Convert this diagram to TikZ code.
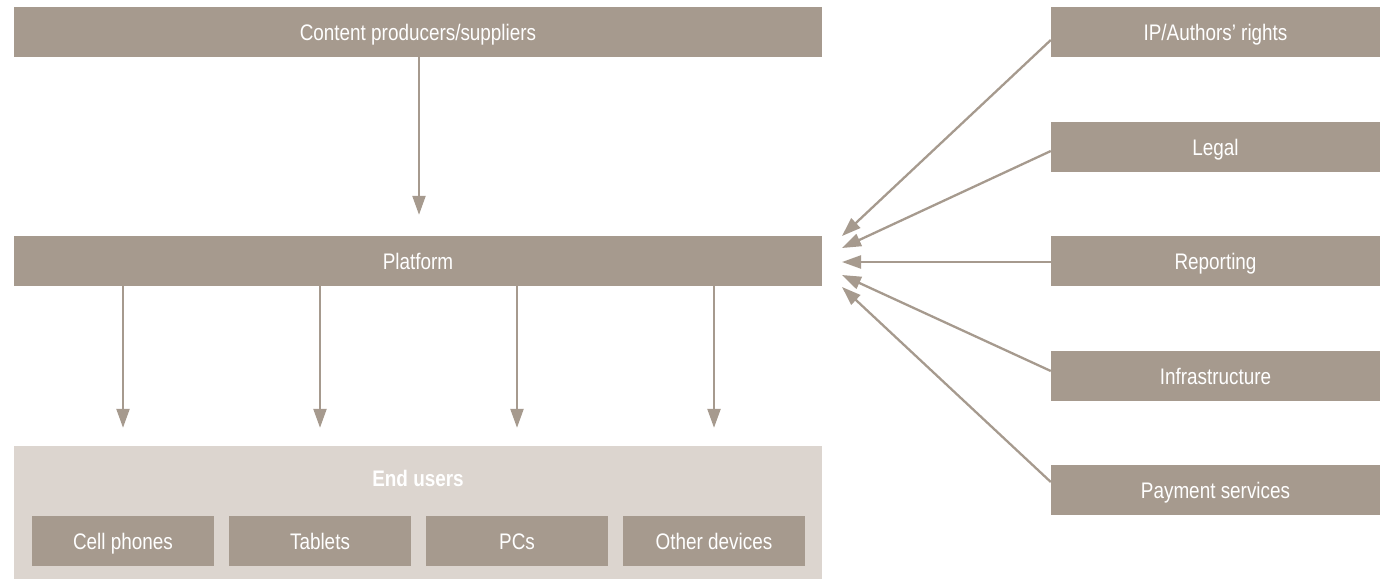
\documentclass[tikz,border=0pt]{standalone}
\usepackage{fontspec}
\setmainfont{Liberation Sans}[FakeStretch=0.84]
\usetikzlibrary{arrows.meta}
\definecolor{boxc}{HTML}{A69A8E}
\definecolor{bgc}{HTML}{DCD5CF}
\tikzset{
  box/.style={fill=boxc, draw=none, inner sep=0pt, text=white,
    font=\fontsize{22.5}{27}\selectfont, minimum height=50pt,
    text height=16pt, text depth=0pt},
  wide/.style={box, minimum width=808pt},
  side/.style={box, minimum width=329pt},
  dev/.style={box, minimum width=182pt},
  bgbox/.style={fill=bgc, draw=none, inner sep=0pt, minimum width=808pt, minimum height=133pt},
  arr/.style={draw=boxc, line width=2.3pt, -{Triangle[length=19pt,width=13pt]}}
}
\begin{document}
\begin{tikzpicture}[x=1pt,y=-1pt]
\useasboundingbox (0,0) rectangle (1386,579);
% left column
\node[wide] (top) at (418,32) {Content producers/suppliers};
\node[wide] (plat) at (418,261) {Platform};
\node[bgbox] (end) at (418,512.5) {};
\node[text=white, font=\bfseries\fontsize{22.5}{27}\selectfont, inner sep=0pt,
      text height=16pt, text depth=0pt] (endl) at (418,478) {End users};
\node[dev] (cell) at (123,541) {Cell phones};
\node[dev] (tab) at (320,541) {Tablets};
\node[dev] (pcs) at (517,541) {PCs};
\node[dev] (oth) at (714,541) {Other devices};
% right column
\node[side] (ip) at (1215.5,32) {IP/Authors’ rights};
\node[side] (legal) at (1215.5,147) {Legal};
\node[side] (rep) at (1215.5,261) {Reporting};
\node[side] (inf) at (1215.5,376) {Infrastructure};
\node[side] (pay) at (1215.5,490) {Payment services};
% arrow tips
\coordinate (t1) at (842,236);
\coordinate (t2) at (842,248);
\coordinate (t3) at (842,262);
\coordinate (t4) at (842,275);
\coordinate (t5) at (842,287);
% connectors
\draw[arr] ([xshift=1pt]top.south) -- ([xshift=1pt,yshift=21pt]plat.north);
\foreach \d in {cell,tab,pcs,oth}{
  \draw[arr] (\d |- plat.south) -- ([yshift=88pt]\d.north);
}
\draw[arr] ([yshift=-8pt]ip.west) -- (t1);
\draw[arr] ([yshift=-4pt]legal.west) -- (t2);
\draw[arr] ([yshift=-1pt]rep.west) -- (t3);
\draw[arr] ([yshift=5pt]inf.west) -- (t4);
\draw[arr] ([yshift=8pt]pay.west) -- (t5);
\end{tikzpicture}
\end{document}
